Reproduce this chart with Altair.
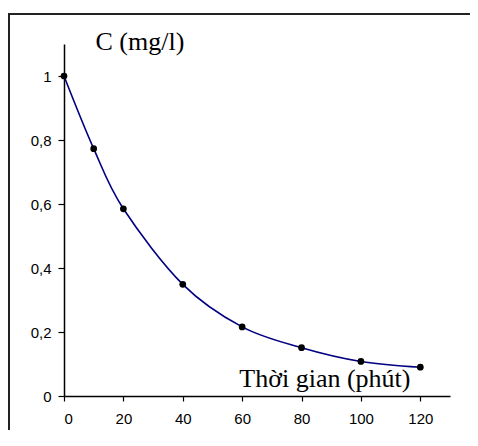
import altair as alt
import pandas as pd

# Measured data (time in minutes, concentration in mg/l)
time_min = [0, 10, 20, 40, 60, 80, 100, 120]
conc = [1.0, 0.773, 0.585, 0.349, 0.216, 0.151, 0.108, 0.090]

x_ticks = [0, 20, 40, 60, 80, 100, 120]
y_ticks = [0, 0.2, 0.4, 0.6, 0.8, 1.0]

df = pd.DataFrame({"t": time_min, "c": conc})

x_enc = alt.X("t:Q", scale=alt.Scale(domain=[0, 130], nice=False, zero=False),
              axis=alt.Axis(values=x_ticks, title="Thời gian (phút)", grid=False,
                            domainColor="black", domainWidth=1.5, tickColor="black",
                            tickWidth=1.2, tickSize=5, labelFont="Liberation Sans",
                            labelFontSize=15, labelColor="black", labelPadding=10,
                            titleFont="Liberation Serif", titleFontSize=26,
                            titleFontWeight="normal", titleColor="black",
                            titleAnchor="start", titleAlign="right",
                            titleBaseline="alphabetic", titleX=346, titleY=-10))
y_enc = alt.Y("c:Q", scale=alt.Scale(domain=[0, 1.1], nice=False, zero=False),
              axis=alt.Axis(values=y_ticks, title="C (mg/l)", grid=False,
                            domainColor="black", domainWidth=1.5, tickColor="black",
                            tickWidth=1.2, tickSize=6, labelFont="Liberation Sans",
                            labelFontSize=15, labelColor="black", labelPadding=7,
                            labelExpr="replace(format(datum.value, '~g'), '.', ',')",
                            titleFont="Liberation Serif", titleFontSize=26,
                            titleFontWeight="normal", titleColor="black",
                            titleAngle=0, titleAlign="left", titleAnchor="start",
                            titleBaseline="alphabetic", titleX=31, titleY=5))

line = alt.Chart(df).mark_line(color="#000080", strokeWidth=1.6,
                               interpolate="cardinal").encode(x=x_enc, y=y_enc)
points = alt.Chart(df).mark_circle(color="black", size=45, opacity=1).encode(
    x="t:Q", y="c:Q")

border = alt.Chart(alt.Data(values=[{"a": 1}])).mark_rect(
    fillOpacity=0, stroke="#222222", strokeWidth=2).encode(
    x=alt.value(-55), x2=alt.value(1000), y=alt.value(-30), y2=alt.value(1000))

chart = alt.layer(border, line, points).properties(
    width=386, height=352,
    autosize=alt.AutoSizeParams(type="none"),
    padding={"left": 56, "top": 36, "right": 20, "bottom": 34},
    background="white",
).configure_view(stroke=None)

chart.save("out.html", embed_options={"renderer": "svg", "actions": False})
